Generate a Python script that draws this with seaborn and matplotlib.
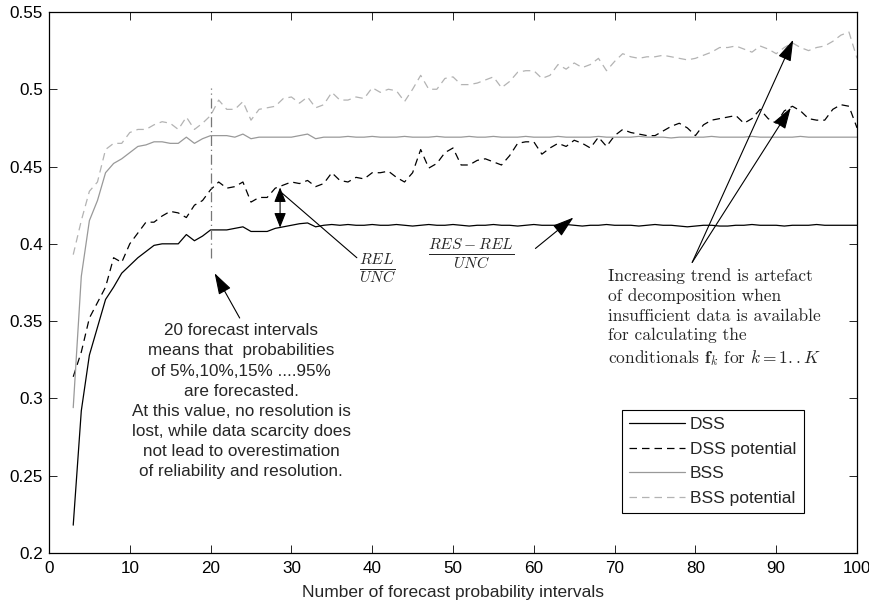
import matplotlib
matplotlib.use("Agg")
import matplotlib.pyplot as plt
import seaborn as sns
import pandas as pd

# ---------------- data ----------------
n_intervals = list(range(3, 101))

dss = [0.218, 0.292, 0.328, 0.346, 0.364, 0.372, 0.381, 0.386, 0.391, 0.395,
       0.399, 0.400, 0.400, 0.400, 0.406, 0.402, 0.405, 0.409, 0.409, 0.409,
       0.410, 0.411, 0.408, 0.408, 0.408, 0.410, 0.411, 0.412, 0.413, 0.4135,
       0.411, 0.412, 0.4125, 0.412, 0.4125, 0.412, 0.412, 0.4125, 0.412, 0.412,
       0.4125, 0.412, 0.4115, 0.412, 0.4125, 0.412, 0.412, 0.4125, 0.412, 0.4115,
       0.412, 0.412, 0.4125, 0.412, 0.412, 0.4115, 0.412, 0.4125, 0.412, 0.412,
       0.412, 0.4125, 0.412, 0.4115, 0.412, 0.412, 0.4125, 0.412, 0.412, 0.412,
       0.4115, 0.412, 0.4125, 0.412, 0.412, 0.4115, 0.411, 0.4115, 0.412, 0.412,
       0.4115, 0.4115, 0.412, 0.412, 0.4125, 0.412, 0.412, 0.412, 0.4115, 0.412,
       0.412, 0.412, 0.4125, 0.412, 0.412, 0.412, 0.412, 0.412]

dss_potential = [0.314, 0.330, 0.352, 0.362, 0.372, 0.391, 0.388, 0.400, 0.407, 0.414,
                 0.414, 0.418, 0.421, 0.420, 0.417, 0.425, 0.428, 0.435, 0.440, 0.436,
                 0.437, 0.440, 0.427, 0.430, 0.430, 0.436, 0.438, 0.440, 0.439, 0.441,
                 0.437, 0.439, 0.446, 0.441, 0.440, 0.443, 0.442, 0.446, 0.446, 0.447,
                 0.443, 0.440, 0.446, 0.461, 0.449, 0.452, 0.459, 0.462, 0.451, 0.451,
                 0.454, 0.455, 0.453, 0.451, 0.457, 0.465, 0.466, 0.466, 0.458, 0.462,
                 0.465, 0.463, 0.467, 0.465, 0.462, 0.469, 0.463, 0.470, 0.474, 0.472,
                 0.471, 0.470, 0.470, 0.473, 0.476, 0.478, 0.475, 0.470, 0.477, 0.480,
                 0.481, 0.482, 0.483, 0.478, 0.481, 0.487, 0.481, 0.478, 0.486, 0.489,
                 0.486, 0.481, 0.480, 0.480, 0.487, 0.490, 0.489, 0.475]

bss = [0.294, 0.379, 0.415, 0.428, 0.446, 0.452, 0.455, 0.459, 0.463, 0.464,
       0.466, 0.466, 0.465, 0.465, 0.469, 0.465, 0.468, 0.470, 0.470, 0.470,
       0.469, 0.471, 0.468, 0.469, 0.469, 0.469, 0.469, 0.469, 0.470, 0.471,
       0.468, 0.469, 0.469, 0.469, 0.4695, 0.469, 0.469, 0.4695, 0.469, 0.469,
       0.469, 0.4695, 0.469, 0.469, 0.469, 0.4695, 0.469, 0.469, 0.469, 0.4695,
       0.469, 0.469, 0.4695, 0.469, 0.469, 0.469, 0.4695, 0.469, 0.469, 0.469,
       0.4695, 0.469, 0.469, 0.469, 0.469, 0.4695, 0.469, 0.469, 0.469, 0.469,
       0.4695, 0.469, 0.469, 0.469, 0.4685, 0.469, 0.469, 0.469, 0.469, 0.4695,
       0.469, 0.469, 0.469, 0.469, 0.4695, 0.469, 0.469, 0.469, 0.469, 0.469,
       0.4695, 0.469, 0.469, 0.469, 0.469, 0.469, 0.469, 0.469]

bss_potential = [0.393, 0.415, 0.434, 0.440, 0.461, 0.465, 0.465, 0.472, 0.474, 0.474,
                 0.477, 0.479, 0.478, 0.474, 0.482, 0.474, 0.478, 0.483, 0.493, 0.487,
                 0.487, 0.492, 0.480, 0.487, 0.488, 0.489, 0.494, 0.495, 0.491, 0.495,
                 0.488, 0.490, 0.498, 0.493, 0.493, 0.495, 0.494, 0.501, 0.498, 0.500,
                 0.499, 0.492, 0.500, 0.509, 0.500, 0.500, 0.507, 0.508, 0.503, 0.503,
                 0.504, 0.506, 0.508, 0.501, 0.505, 0.511, 0.512, 0.512, 0.507, 0.509,
                 0.516, 0.513, 0.517, 0.514, 0.516, 0.520, 0.512, 0.518, 0.523, 0.521,
                 0.520, 0.521, 0.521, 0.522, 0.521, 0.520, 0.519, 0.520, 0.522, 0.524,
                 0.527, 0.527, 0.528, 0.526, 0.524, 0.528, 0.526, 0.523, 0.527, 0.530,
                 0.527, 0.525, 0.527, 0.528, 0.531, 0.535, 0.537, 0.520]

series_names = ["DSS", "DSS potential", "BSS", "BSS potential"]
x_ticks = [0, 10, 20, 30, 40, 50, 60, 70, 80, 90, 100]
x_tick_labels = ["0", "10", "20", "30", "40", "50", "60", "70", "80", "90", "100"]
y_ticks = [0.2, 0.25, 0.3, 0.35, 0.4, 0.45, 0.5, 0.55]
y_tick_labels = ["0.2", "0.25", "0.3", "0.35", "0.4", "0.45", "0.5", "0.55"]

# ---------------- style ----------------
sns.set_theme(style="ticks")
plt.rcParams["font.family"] = ["Liberation Sans", "DejaVu Sans"]
plt.rcParams["mathtext.fontset"] = "cm"
plt.rcParams["axes.unicode_minus"] = False

fig = plt.figure(figsize=(8.7, 6.01), dpi=100)
ax = fig.add_axes([0.0563, 0.0799, 0.9288, 0.9002])

styles = {
    "DSS": dict(color="black", linestyle="-"),
    "DSS potential": dict(color="black", linestyle=(0, (6, 4))),
    "BSS": dict(color="#999999", linestyle="-"),
    "BSS potential": dict(color="#b3b3b3", linestyle=(0, (6, 4))),
}
values = {"DSS": dss, "DSS potential": dss_potential, "BSS": bss, "BSS potential": bss_potential}

for name in series_names:
    df = pd.DataFrame({"n": n_intervals, "v": values[name]})
    sns.lineplot(data=df, x="n", y="v", ax=ax, label=name, linewidth=0.9,
                 **styles[name])

ax.set_xlim(0, 100)
ax.set_ylim(0.2, 0.55)
ax.set_xticks(x_ticks)
ax.set_xticklabels(x_tick_labels)
ax.set_yticks(y_ticks)
ax.set_yticklabels(y_tick_labels)
ax.set_xlabel("Number of forecast probability intervals", fontsize=12.5, labelpad=6)
ax.set_ylabel("")
for s in ax.spines.values():
    s.set_visible(True)
    s.set_color("black")
    s.set_linewidth(0.9)
ax.tick_params(direction="in", top=True, right=True, length=5.5, width=0.6,
               labelsize=12.3, colors="black", pad=4.5)
ax.tick_params(axis="x", pad=6)

leg = ax.legend(loc="lower left", bbox_to_anchor=(0.709, 0.074), fontsize=12.5,
                frameon=True, fancybox=False, framealpha=1, edgecolor="black",
                handlelength=3.2, labelspacing=0.54, borderpad=0.42,
                handletextpad=0.3, borderaxespad=0)
leg.get_frame().set_linewidth(0.8)

# ---------------- annotations ----------------
ax.vlines(20, 0.391, 0.501, colors="#777777", linestyles=(0, (8, 3, 1, 3)), linewidth=0.9)

arrow = dict(arrowstyle="-|>,head_length=1.1,head_width=0.35", color="black",
             lw=0.8, shrinkA=0, shrinkB=0, mutation_scale=12)
ax.annotate("", xy=(20.5, 0.381), xytext=(23.6, 0.352), arrowprops=arrow)
ax.text(23.8, 0.3485,
        "20 forecast intervals\nmeans that  probabilities\nof 5%,10%,15% ....95%\n"
        "are forecasted.\nAt this value, no resolution is\nlost, while data scarcity does\n"
        "not lead to overestimation\nof reliability and resolution.",
        ha="center", va="top", fontsize=12.3, linespacing=1.42)

ax.annotate("", xy=(28.6, 0.4365), xytext=(28.6, 0.4105),
            arrowprops=dict(arrowstyle="<|-|>,head_length=0.75,head_width=0.3",
                            color="black", lw=0.8, shrinkA=0, shrinkB=0,
                            mutation_scale=12))
ax.annotate("", xy=(28.8, 0.433), xytext=(38.1, 0.391),
            arrowprops=dict(arrowstyle="-", color="black", lw=0.8, shrinkA=0, shrinkB=0))
ax.text(40.6, 0.384, r"$\frac{REL}{UNC}$", ha="center", va="center", fontsize=16)
ax.text(52.3, 0.394, r"$\frac{RES-REL}{UNC}$", ha="center", va="center", fontsize=16)
ax.annotate("", xy=(64.9, 0.417), xytext=(60.2, 0.397), arrowprops=arrow)

ax.annotate("", xy=(92.1, 0.532), xytext=(79.6, 0.388), arrowprops=arrow)
ax.annotate("", xy=(91.8, 0.488), xytext=(79.6, 0.388), arrowprops=arrow)
ax.text(69.2, 0.384,
        "Increasing trend is artefact\nof decomposition when\ninsufficient data is available\n"
        "for calculating the\nconditionals $\\mathbf{f}_k$ for $k = 1..K$",
        ha="left", va="top", fontsize=12.5, family=["cmr10", "DejaVu Serif"],
        linespacing=1.32)

fig.savefig("out.png", dpi=100)
